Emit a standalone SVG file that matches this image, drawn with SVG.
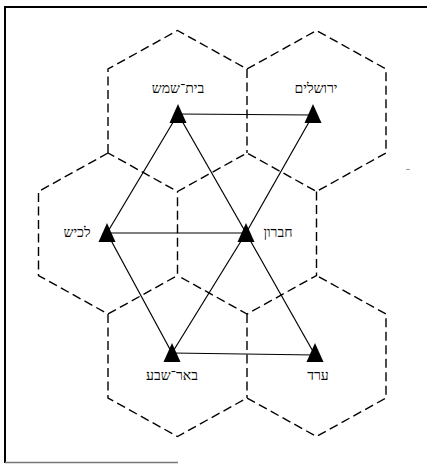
<svg xmlns="http://www.w3.org/2000/svg" width="427" height="464" viewBox="0 0 427 464">
  <style>
    .hex { fill: none; stroke: #000; stroke-width: 1.4; stroke-dasharray: 9 4.5; stroke-linejoin: miter; }
    .edge { stroke: #000; stroke-width: 1.2; fill: none; }
    .tri { fill: #000; stroke: none; }
    .lbl { font-family: "Liberation Serif", "DejaVu Serif", "DejaVu Sans", serif; font-size: 14px; fill: #000; text-anchor: middle; }
    .frame { stroke: #000; stroke-width: 2; fill: none; }
  </style>
  <defs>
    <polygon id="tri" class="tri" points="0,-10 8.5,9 -8.5,9"/>
  </defs>

  <!-- frame (open on the right, as printed) -->
  <g id="frame">
    <line class="frame" x1="5" y1="7" x2="427" y2="7"/>
    <line class="frame" x1="5" y1="6" x2="5" y2="463"/>
    <line x1="5" y1="462.5" x2="178" y2="462.5" stroke="#777" stroke-width="1.5"/>
    <line x1="406" y1="169.5" x2="410" y2="169.5" stroke="#999" stroke-width="1"/>
  </g>

  <!-- dashed hexagonal cells -->
  <g id="cells">
    <path class="hex" d="M108,153 L108,69 L177.5,30.5 L247,69 L316.5,30.5 L386,69 L386,153 L316.5,191.5 L247,153 L177.5,191.5 L108,153"/>
    <path class="hex" d="M247,69 L247,153"/>
    <path class="hex" d="M108,153 L38.5,191.5 L38.5,275.5 L108,314 L177.5,275.5 L177.5,191.5"/>
    <path class="hex" d="M316.5,191.5 L316.5,275.5 L247,314 L177.5,275.5"/>
    <path class="hex" d="M108,314 L108,398 L177.5,436.5 L247,398 L316.5,436.5 L386,398 L386,314 L316.5,275.5"/>
    <path class="hex" d="M247,314 L247,398"/>
  </g>

  <!-- connectors -->
  <g id="connectors">
    <line class="edge" x1="178" y1="114" x2="313" y2="115"/>
    <line class="edge" x1="178" y1="114" x2="107" y2="233"/>
    <line class="edge" x1="178" y1="114" x2="246" y2="233"/>
    <line class="edge" x1="313" y1="115" x2="246" y2="233"/>
    <line class="edge" x1="107" y1="233" x2="246" y2="233"/>
    <line class="edge" x1="107" y1="233" x2="172" y2="353"/>
    <line class="edge" x1="246" y1="233" x2="172" y2="353"/>
    <line class="edge" x1="246" y1="233" x2="315" y2="355"/>
    <line class="edge" x1="172" y1="353" x2="315" y2="355"/>
  </g>

  <!-- nodes -->
  <g id="beit-shemesh">
    <use href="#tri" x="178" y="114"/>
    <text class="lbl" x="178" y="93">בית־שמש</text>
  </g>
  <g id="jerusalem">
    <use href="#tri" x="313" y="114"/>
    <text class="lbl" x="316" y="93">ירושלים</text>
  </g>
  <g id="lachish">
    <use href="#tri" x="107" y="233"/>
    <text class="lbl" x="77" y="237">לכיש</text>
  </g>
  <g id="hebron">
    <use href="#tri" x="246" y="233"/>
    <text class="lbl" x="278" y="237">חברון</text>
  </g>
  <g id="beer-sheva">
    <use href="#tri" x="172" y="353"/>
    <text class="lbl" x="172" y="380">באר־שבע</text>
  </g>
  <g id="arad">
    <use href="#tri" x="315" y="353"/>
    <text class="lbl" x="318" y="380">ערד</text>
  </g>
</svg>
